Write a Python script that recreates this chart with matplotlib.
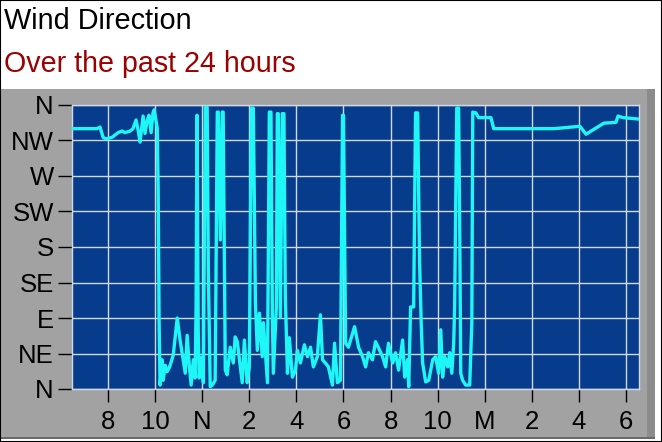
import matplotlib
matplotlib.use("Agg")
import matplotlib.pyplot as plt
from matplotlib.patches import Rectangle

plt.rcParams['font.family'] = ['Liberation Sans', 'DejaVu Sans']

# wind direction samples: hour of day (24+ = next day) and degrees
hours = [
    6.47, 7.53, 7.66, 7.79, 7.91, 8.17, 8.43, 8.60, 8.72, 8.94, 9.06, 9.19, 9.28, 9.36,
    9.49, 9.57, 9.66, 9.74, 9.83, 9.91, 9.96, 10.09, 10.13, 10.17, 10.21,
    10.30, 10.34, 10.43, 10.51, 10.60, 10.68, 10.77, 10.94, 11.06, 11.19, 11.28, 11.36,
    11.45, 11.53, 11.62, 11.70, 11.74, 11.78, 11.83, 11.87, 11.95, 12.05,
    12.13, 12.21, 12.26, 12.34, 12.43, 12.55,
    12.64, 12.68, 12.77, 12.85, 12.89, 12.98,
    13.06, 13.19, 13.32, 13.40, 13.49, 13.62, 13.70, 13.79, 13.91, 14.00,
    14.09, 14.17, 14.26, 14.34, 14.43, 14.55, 14.60, 14.68, 14.77,
    14.85, 14.92, 14.98, 15.02, 15.15, 15.19, 15.23, 15.32, 15.40, 15.47, 15.53, 15.62,
    15.70, 15.83, 15.96, 16.04, 16.17, 16.34, 16.47, 16.60, 16.72, 16.89, 17.02, 17.11,
    17.23, 17.36, 17.53, 17.62, 17.74, 17.87,
    17.96, 18.00, 18.09, 18.21, 18.47, 18.64, 18.81, 18.94, 19.06, 19.23, 19.36, 19.49,
    19.66, 19.79, 19.91, 20.09, 20.21, 20.34, 20.51, 20.60, 20.72, 20.77, 20.85, 20.98,
    21.06, 21.15, 21.23, 21.30, 21.36, 21.49, 21.62, 21.79, 21.91, 22.04, 22.13, 22.21,
    22.30, 22.43, 22.51, 22.60, 22.68, 22.72,
    22.81, 22.89, 22.94, 22.98, 23.06, 23.19, 23.36, 23.45, 23.49, 23.62, 23.74, 24.26,
    24.38, 26.94, 28.04, 28.30, 29.06, 29.57, 29.66, 29.87, 30.60,
]
direction = [
    330, 330, 332, 319, 317, 319, 325, 327, 325, 327, 330, 341, 328, 313,
    346, 324, 340, 347, 325, 350, 354, 331, 252, 84, 5,
    37, 11, 30, 22, 27, 34, 43, 90, 62, 37, 20, 68,
    30, 5, 37, 14, 104, 347, 75, 14, 40, 8,
    357, 357, 150, 3, 5, 11,
    351, 351, 189, 351, 351, 24,
    18, 53, 33, 66, 60, 28, 8, 62, 8, 28,
    356, 356, 109, 49, 96, 41, 84, 49, 8,
    351, 351, 91, 20, 104, 349, 349, 91, 349, 349, 117, 20,
    65, 15, 24, 49, 33, 56, 41, 53, 28, 41, 94, 37,
    33, 28, 5, 58, 8, 11,
    347, 347, 58, 53, 79, 53, 41, 28, 46, 37, 60, 52,
    41, 28, 58, 33, 46, 24, 62, 15, 37, 3, 104, 104,
    350, 350, 163, 84, 33, 9, 11, 37, 41, 20, 75, 15,
    41, 28, 46, 20, 58, 104,
    356, 356, 189, 20, 11, 5, 5, 84, 351, 350, 344, 344,
    330, 330, 333, 323, 337, 338, 346, 344, 342,
]

x_ticks = [8, 10, 12, 14, 16, 18, 20, 22, 24, 26, 28, 30]
x_labels = ['8', '10', 'N', '2', '4', '6', '8', '10', 'M', '2', '4', '6']
y_ticks = [0, 45, 90, 135, 180, 225, 270, 315, 360]
y_labels = ['N', 'NE', 'E', 'SE', 'S', 'SW', 'W', 'NW', 'N']

W, H = 662, 442
fig = plt.figure(figsize=(W / 100, H / 100), dpi=100)
fig.patch.set_facecolor('white')

# grey panel behind the chart with a bevelled edge
fig.patches.append(Rectangle((0, 3 / H), 655 / W, (H - 89 - 3) / H, transform=fig.transFigure,
                             facecolor='#a2a2a2', edgecolor='none', zorder=0))
fig.patches.append(Rectangle((647 / W, 3 / H), 8 / W, (H - 89 - 3) / H, transform=fig.transFigure,
                             facecolor='#8c8c8c', edgecolor='none', zorder=0))
fig.patches.append(Rectangle((0, 3 / H), 655 / W, 2 / H, transform=fig.transFigure,
                             facecolor='#6a6a6a', edgecolor='none', zorder=0))
fig.patches.append(Rectangle((0, 0), 1, 1, transform=fig.transFigure, fill=False,
                             edgecolor='black', linewidth=1.5, zorder=5))

fig.text(4 / W, 1 - 29 / H, 'Wind Direction', fontsize=20.8, color='black', va='baseline')
fig.text(4 / W, 1 - 72 / H, 'Over the past 24 hours', fontsize=20.6, color='#9c0000', va='baseline')

ax = fig.add_axes([72 / W, 53 / H, 567 / W, 284 / H])
ax.set_zorder(2)
ax.set_facecolor('#073c8c')
ax.plot(hours, direction, color='#1ff7f7', linewidth=2.4, zorder=3)

ax.set_xlim(6.47, 30.55)
ax.set_ylim(0, 360)
ax.set_xticks(x_ticks)
ax.set_xticklabels(x_labels)
ax.set_yticks(y_ticks)
ax.set_yticklabels(y_labels)
ax.grid(True, color='#d0d8ea', linewidth=1.0, zorder=1)
ax.tick_params(axis='y', length=10, width=1, pad=3, labelsize=18.5, colors='black', direction='out')
ax.tick_params(axis='x', length=9, width=1, pad=6, labelsize=18.5, colors='black', direction='out')
for s in ax.spines.values():
    s.set_color('#d0d8ea')
    s.set_linewidth(1.0)

fig.savefig('out.png', dpi=100, facecolor=fig.get_facecolor())
